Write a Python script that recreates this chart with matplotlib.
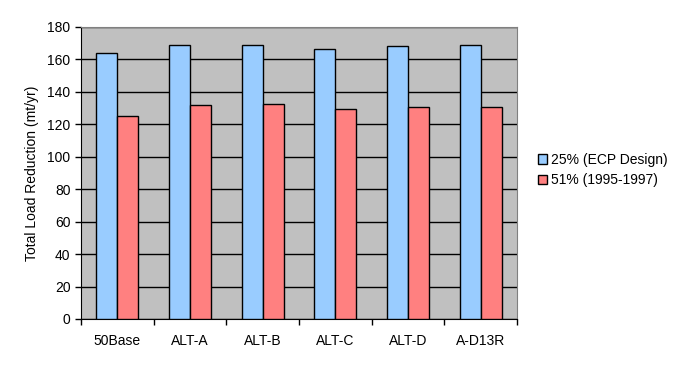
import numpy as np
import matplotlib.pyplot as plt
from matplotlib.patches import Patch

plt.rcParams['font.family'] = ['Liberation Sans', 'DejaVu Sans']

categories = ['50Base', 'ALT-A', 'ALT-B', 'ALT-C', 'ALT-D', 'A-D13R']
ecp_design = [163.7, 168.6, 168.6, 166.2, 168.0, 168.6]
obs_1995 = [124.9, 131.7, 132.3, 129.2, 130.5, 130.5]

blue = '#99CCFF'
red = '#FF8080'

fig = plt.figure(figsize=(6.76, 3.66), dpi=100)
ax = fig.add_axes([81 / 676, 1 - 319 / 366, 436 / 676, 292 / 366])
ax.set_facecolor('#C0C0C0')

x = np.arange(len(categories))
w = 0.29
ax.bar(x - w / 2, ecp_design, w, color=blue, edgecolor='black', linewidth=1, zorder=3)
ax.bar(x + w / 2, obs_1995, w, color=red, edgecolor='black', linewidth=1, zorder=3)

ax.set_xlim(-0.5, len(categories) - 0.5)
ax.set_ylim(0, 180)
ax.set_yticks(np.arange(0, 181, 20))
ax.yaxis.grid(True, color='black', linewidth=1, zorder=1)
ax.set_axisbelow(True)

ax.set_xticks(x)
ax.set_xticklabels(categories, fontsize=10)
ax.set_xticks(np.arange(-0.5, len(categories), 1), minor=True)
ax.tick_params(axis='x', which='major', length=0, pad=11)
ax.tick_params(axis='x', which='minor', length=4, direction='out', width=1)
ax.tick_params(axis='y', length=4, direction='out', labelsize=10, width=1)

for s in ['top', 'right']:
    ax.spines[s].set_color('#808080')
for s in ['left', 'bottom']:
    ax.spines[s].set_color('black')

ax.set_ylabel('Total Load Reduction (mt/yr)', fontsize=10, labelpad=6)

handles = [Patch(facecolor=blue, edgecolor='black', label='25% (ECP Design)'),
           Patch(facecolor=red, edgecolor='black', label='51% (1995-1997)')]
fig.legend(handles=handles, loc='center left', bbox_to_anchor=(525 / 676, 1 - 170 / 366),
           frameon=False, fontsize=10, handlelength=0.7, handleheight=0.7,
           handletextpad=0.3, labelspacing=0.5)

fig.savefig('out.png', dpi=100)
